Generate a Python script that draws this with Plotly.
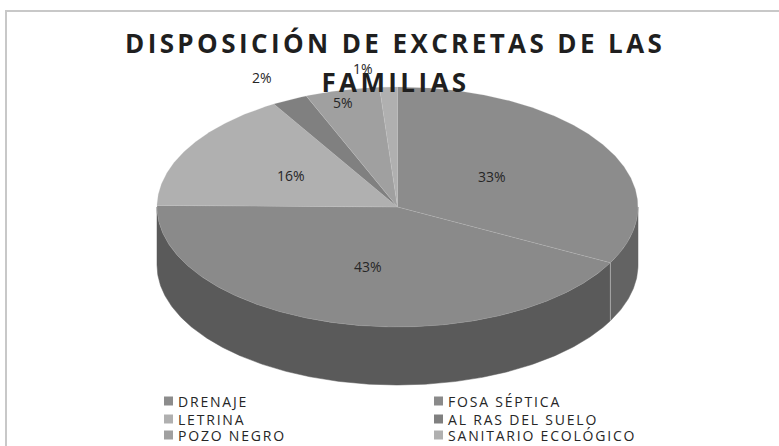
import math
import plotly.graph_objects as go

categories = ["DRENAJE", "FOSA SÉPTICA", "LETRINA", "AL RAS DEL SUELO", "POZO NEGRO", "SANITARIO ECOLÓGICO"]
values = [32.7, 42.51, 16.2, 2.4, 5.0, 1.19]
top_colors = ["#8c8c8c", "#8a8a8a", "#b0b0b0", "#808080", "#a0a0a0", "#b0b0b0"]
side_colors = ["#636363", "#5a5a5a", "#6e6e6e", "#5a5a5a", "#666666", "#6e6e6e"]
title_lines = ["DISPOSICIÓN DE EXCRETAS DE LAS", "FAMILIAS"]

W, H = 779, 446
CX, CY, RX, RY, DEPTH = 397.5, 207, 240.5, 120, 58
label_radius = [0.45, 0.5, 0.5, 1.22, 0.9, 1.16]
label_dx = [2, 0, -2, -4, -5, -24]
label_dy = [-3, 1, -2, 1, 1, 1]
FONT = "Open Sans, sans-serif"


def ell(deg, r=1.0):
    a = math.radians(deg)
    return CX + RX * r * math.sin(a), CY - RY * r * math.cos(a)


def arc(a0, a1):
    n = max(2, int(abs(a1 - a0) * 2) + 1)
    return [a0 + (a1 - a0) * i / (n - 1) for i in range(n)]


fig = go.Figure()
start = 0.0
total = sum(values)
annotations = []
walls = []
tops = []
for i, v in enumerate(values):
    end = start + v / total * 360
    tops.append((i, start, end))
    w0, w1 = max(start, 90), min(end, 270)
    if w1 > w0:
        walls.append((i, w0, w1))
    mid = (start + end) / 2
    lx, ly = ell(mid, label_radius[i])
    annotations.append(dict(x=lx + label_dx[i], y=ly + label_dy[i], text=f"{v:.0f}%", showarrow=False,
                            font=dict(family=FONT, size=14, color="#262626"),
                            xanchor="center", yanchor="middle"))
    start = end

for i, a0, a1 in walls:
    pts = arc(a0, a1)
    upper = [ell(a) for a in pts]
    lower = [(x, y + DEPTH) for x, y in reversed(upper)]
    poly = upper + lower + [upper[0]]
    fig.add_trace(go.Scatter(x=[p[0] for p in poly], y=[p[1] for p in poly], mode="lines",
                             fill="toself", fillcolor=side_colors[i],
                             line=dict(color=side_colors[i], width=0.5), hoverinfo="skip", showlegend=False))
    # light seam where two slices meet on the wall
    if 90 < a0 < 270:
        x0, y0 = ell(a0)
        fig.add_trace(go.Scatter(x=[x0, x0], y=[y0, y0 + DEPTH], mode="lines",
                                 line=dict(color="#a8a8a8", width=1), hoverinfo="skip", showlegend=False))

for i, a0, a1 in tops:
    poly = [(CX, CY)] + [ell(a) for a in arc(a0, a1)] + [(CX, CY)]
    fig.add_trace(go.Scatter(x=[p[0] for p in poly], y=[p[1] for p in poly], mode="lines",
                             fill="toself", fillcolor=top_colors[i],
                             line=dict(color="rgba(200,200,200,0.4)", width=0.5), hoverinfo="skip", showlegend=False))

# Legend, drawn by hand because the rows of the original are uneven
leg_x = [168.5, 438.5]
leg_y = [401, 419, 435]
for i, name in enumerate(categories):
    col, row = i % 2, i // 2
    fig.add_trace(go.Scatter(x=[leg_x[col]], y=[leg_y[row]], mode="markers",
                             marker=dict(symbol="square", size=9, color=top_colors[i]),
                             hoverinfo="skip", showlegend=False))
    annotations.append(dict(x=leg_x[col] + 7.5, y=leg_y[row], text=name, showarrow=False,
                            xanchor="left", yanchor="middle",
                            font=dict(family=FONT, size=14, color="#262626")))

for line, base in zip(title_lines, [43, 82]):
    annotations.append(dict(x=395, y=base, text=f"<b>{line}</b>", showarrow=False,
                            xanchor="center", yanchor="middle",
                            font=dict(family=FONT, size=26, color="#1f1f1f")))

fig.update_layout(
    width=W, height=H, margin=dict(l=0, r=0, t=0, b=0),
    paper_bgcolor="white", plot_bgcolor="white", showlegend=False,
    xaxis=dict(range=[0, W], visible=False, fixedrange=True),
    yaxis=dict(range=[H, 0], visible=False, fixedrange=True),
    annotations=annotations,
    shapes=[dict(type="rect", x0=6, y0=11, x1=W + 10, y1=H + 10, layer="below",
                 line=dict(color="#c8c8c8", width=2))],
)

post = """
document.body.style.margin='0';
document.querySelectorAll('.annotation-text').forEach(function(t){
  var s=t.textContent;
  if(s.indexOf('DISPOSICI')===0||s==='FAMILIAS'){t.style.letterSpacing='3.4px';}
  else if(s.indexOf('%')<0){
    var before=t.getBBox().x;
    t.style.letterSpacing='1.8px';
    var after=t.getBBox().x;
    t.setAttribute('x', parseFloat(t.getAttribute('x')||0)+(before-after));
  }
});
"""
fig.write_html("out.html", post_script=post, config=dict(displayModeBar=False))
